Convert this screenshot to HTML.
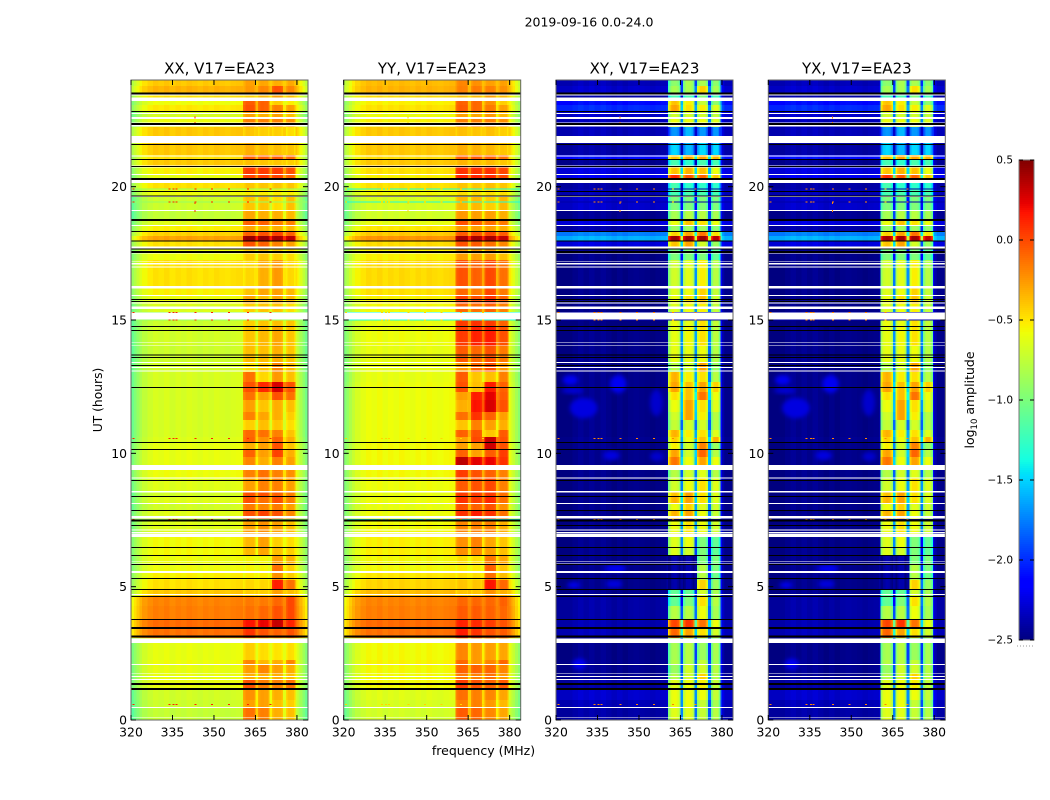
<!DOCTYPE html>
<html lang="en">
<head>
<meta charset="utf-8">
<title>2019-09-16 0.0-24.0</title>
<style>
html,body{margin:0;padding:0;background:#fff}
svg{display:block}
text{font-family:"DejaVu Sans","Liberation Sans",sans-serif;fill:#000}
</style>
</head>
<body>
<svg id="chart" xmlns="http://www.w3.org/2000/svg" width="1050" height="800" viewBox="0 0 1050 800">
  <defs><filter id="soft" x="-40%" y="-40%" width="180%" height="180%"><feGaussianBlur stdDeviation="2.2"/></filter></defs>
  <text x="589" y="26.5" font-size="12.5" text-anchor="middle">2019-09-16 0.0-24.0</text>
  <text transform="translate(102,400) rotate(-90)" font-size="12.3" text-anchor="middle">UT (hours)</text>
  <text x="483.5" y="755" font-size="12.5" text-anchor="middle">frequency (MHz)</text>
  <text transform="translate(974,400) rotate(-90)" font-size="12.5" text-anchor="middle">log<tspan font-size="8.5" dy="3">10</tspan><tspan dy="-3"> amplitude</tspan></text>
  <g id="panels"></g>
  <g id="colorbar"></g>
</svg>
<script>
const panelTitles = ['XX, V17=EA23', 'YY, V17=EA23', 'XY, V17=EA23', 'YX, V17=EA23'];
const freqTicks = [320, 335, 350, 365, 380];
const hourTicks = [0, 5, 10, 15, 20];
const colorbarTicks = [0.5, 0, -0.5, -1, -1.5, -2, -2.5];
const colorbarLabels = ['0.5', '0.0', '\u22120.5', '\u22121.0', '\u22121.5', '\u22122.0', '\u22122.5'];

const channelEdges = [320,321,322,323,324,326,328,330,332,334,336,338,340,342,344,346,348,350,352,354,356,358,360,360.5,361,361.5,362,362.5,363,363.5,364,364.5,365,365.5,366,366.5,367,367.5,368,368.5,369,369.5,370,370.5,371,371.5,372,372.5,373,373.5,374,374.5,375,375.5,376,376.5,377,377.5,378,378.5,379,379.5,380,380.5,381,382,383,384];
const channelBand = [0,0,0,0,0,0,0,0,0,0,0,0,0,0,0,0,0,0,0,0,0,0,0,1,1,1,1,1,1,1,1,1,1.5,1.5,2,2,2,2,2,2,2,2,2.5,2.5,3,3,3,3,3,3,3,3,3.5,3.5,4,4,4,4,4,4,4,0,0,0,0,0,0];
const autoOffset = [-.38,-.3,-.22,-.14,-.07,-.02,.02,0,.03,-.01,.02,0,.03,.01,-.01,.02,0,.03,.01,0,.02,.03,.03,-.05,0,.03,.03,.03,.02,.02,.02,-.02,0,0,-.03,.02,.03,.03,.02,.02,.02,-.03,0,0,-.03,.02,.03,.03,.02,.02,.02,-.03,0,0,-.04,.02,.03,.03,.02,.02,-.05,.02,-.03,-.08,-.15,-.25,-.35];
const crossOffset = [-.08,-.08,-.08,-.08,-.08,-.05,-.02,-.05,-.02,-.05,-.02,-.05,-.08,-.05,-.08,-.05,-.04,-.05,-.06,-.08,-.06,-.05,0,-.35,-.12,-.03,0,.02,.02,0,-.05,-.2,0,0,-.2,-.05,.02,.02,.02,.02,-.05,-.2,0,0,-.2,-.05,.02,.02,.02,.02,-.05,-.2,0,0,-.25,-.05,.02,.02,.02,-.05,-.25,.3,.05,0,-.05,-.05,-.05];
const gapDrop = [0.25, 0.25, 1.1, 1.1];

const rowEdgeHours = [24,23.78,23.51,23.33,23.06,22.84,22.54,22.24,21.9,21.64,21.19,21.04,20.74,20.44,20.14,19.91,19.61,19.09,18.71,18.53,18.3,18.15,17.96,17.7,17.25,16.28,15.9,15.6,15.3,15,14.74,14.03,13.39,13.05,12.68,12.3,12,11.55,11.25,10.88,10.61,10.43,10.16,9.86,9.56,9.38,9.08,8.55,8.4,8.1,7.84,7.46,6.86,6.45,6.15,5.85,5.51,5.25,4.88,4.65,4.28,3.75,3.45,3.08,2.89,2.25,2.06,1.73,1.5,1.16,.75,.45,0];

const xxLevels = [
[-.42,-.3,-.32,-.35,-.33],[-.35,-.28,-.22,-.05,-.22],[-.5,-.45,-.38,-.3,-.4],[-.6,-.08,-.1,-.45,-.55],[-.52,-.05,-.1,-.2,-.3],[-.68,-.3,-.35,-.3,-.4],[-.6,-.2,-.2,-.2,-.25],[-.42,-.42,-.45,-.45,-.5],[-.42,-.42,-.45,-.45,-.5],[-.42,-.35,-.38,-.4,-.42],
[-.5,-.1,-.1,-.08,-.12],[-.42,-.4,-.42,-.42,-.45],[-.55,.02,.02,.02,-.05],[-.62,0,.02,0,-.1],[-.5,-.42,-.42,-.42,-.42],[-.6,-.55,-.55,-.55,-.55],[-.72,-.42,-.42,-.5,-.4],[-.75,-.32,-.35,-.35,-.38],[-.65,-.1,-.1,-.18,-.2],[-.55,-.32,-.35,-.35,-.38],
[-.45,-.1,-.05,0,-.1],[-.3,.42,.42,.38,.33],[-.5,-.05,-.1,-.2,-.3],[-.6,-.45,-.42,-.45,-.5],[-.5,-.48,-.35,-.28,-.48],[-.55,-.42,-.32,-.3,-.38],[-.6,-.32,-.4,-.32,-.38],[-.66,-.45,-.42,-.42,-.5],[-.7,-.45,-.42,-.42,-.5],[-.72,-.45,-.42,-.4,-.42],
[-.7,-.42,-.38,-.32,-.42],[-.72,-.4,-.4,-.35,-.42],[-.7,-.5,-.42,-.22,-.38],[-.68,-.15,-.48,-.28,-.4],[-.68,-.05,.08,.25,-.05],[-.68,-.15,-.3,-.05,-.15],[-.68,-.3,-.42,-.35,-.4],[-.68,-.2,-.32,-.35,-.45],[-.68,-.45,-.4,-.42,-.5],[-.68,-.12,-.15,-.2,-.42],
[-.66,-.1,-.25,-.1,-.35],[-.62,-.35,-.3,-.05,-.42],[-.62,-.1,-.3,0,-.35],[-.62,-.22,-.35,-.2,-.3],[-.62,-.22,-.35,-.2,-.3],[-.6,-.2,-.15,-.2,-.25],[-.65,-.3,-.2,-.2,-.3],[-.7,-.05,-.05,-.1,-.2],[-.65,-.05,-.15,-.05,-.2],[-.7,-.18,-.22,-.18,-.3],
[-.65,-.05,0,-.05,-.22],[-.65,-.3,-.25,-.3,-.4],[-.58,-.38,-.3,-.45,-.5],[-.58,-.38,-.32,-.4,-.45],[-.6,-.58,-.58,-.3,-.36],[-.6,-.58,-.58,-.15,-.45],[-.55,-.55,-.55,-.25,-.45],[-.5,-.48,-.48,.12,-.15],[-.42,-.45,-.45,-.3,-.4],[-.2,-.18,-.18,-.12,-.02],
[-.18,-.15,-.12,-.05,-.02],[-.12,.15,.2,.3,.1],[-.14,.05,-.05,-.1,-.05],[-.6,-.5,-.5,-.5,-.5],[-.62,-.45,-.5,-.52,-.5],[-.6,-.22,-.38,-.35,-.22],[-.62,-.3,-.22,-.3,-.35],[-.62,-.35,-.35,-.35,-.4],[-.62,-.05,-.18,-.2,-.15],[-.7,-.25,-.3,-.35,-.4],
[-.72,-.3,-.3,-.4,-.45],[-.75,-.15,-.2,-.35,-.4]];

const yyLevels = [
[-.38,-.22,-.25,-.3,-.3],[-.35,-.2,-.18,-.2,-.25],[-.48,-.4,-.38,-.3,-.38],[-.55,-.1,-.12,-.25,-.45],[-.5,-.08,-.12,-.18,-.3],[-.6,-.3,-.32,-.28,-.38],[-.55,-.2,-.2,-.2,-.25],[-.42,-.4,-.42,-.4,-.45],[-.42,-.4,-.42,-.4,-.45],[-.42,-.35,-.36,-.38,-.42],
[-.48,-.1,-.08,-.1,-.15],[-.42,-.36,-.38,-.38,-.42],[-.5,.05,.05,.05,-.02],[-.55,.1,.1,.08,-.02],[-.5,-.42,-.42,-.4,-.42],[-.58,-.5,-.5,-.5,-.5],[-.68,-.38,-.38,-.45,-.38],[-.7,-.28,-.3,-.3,-.35],[-.62,-.05,-.08,-.15,-.18],[-.52,-.28,-.3,-.3,-.35],
[-.42,-.08,-.05,-.02,-.08],[-.25,.38,.38,.38,.32],[-.48,-.05,-.08,-.15,-.22],[-.55,-.3,-.3,-.3,-.4],[-.48,-.05,-.1,-.02,-.15],[-.5,-.12,-.18,-.02,-.18],[-.55,0,-.05,.05,-.1],[-.58,-.12,-.15,-.1,-.2],[-.65,-.1,-.15,-.1,-.2],[-.62,.02,.05,.02,-.1],
[-.6,.02,.1,.12,-.05],[-.62,-.08,-.12,-.05,-.18],[-.62,-.28,-.12,-.05,-.28],[-.62,-.08,-.42,-.4,-.2],[-.6,-.05,-.4,.12,-.1],[-.6,-.3,.12,.22,-.08],[-.6,-.35,.15,.25,-.05],[-.6,-.15,.05,-.1,-.3],[-.6,-.42,-.2,-.3,-.35],[-.6,-.1,-.05,-.42,-.08],
[-.6,-.3,-.02,.3,-.05],[-.58,-.3,-.3,.28,-.05],[-.58,-.1,-.3,-.08,.02],[-.58,.32,.22,.2,.05],[-.58,.32,.22,.2,.05],[-.58,.02,-.05,-.1,-.2],[-.6,-.08,-.05,-.02,-.2],[-.62,.02,.02,.02,-.15],[-.6,.05,.02,.08,-.15],[-.62,-.05,-.1,-.05,-.25],
[-.6,.05,.12,.05,-.15],[-.58,-.22,-.2,-.2,-.35],[-.55,-.25,-.2,-.32,-.42],[-.55,-.25,-.22,-.3,-.4],[-.58,-.5,-.5,-.18,-.32],[-.58,-.55,-.55,-.1,-.42],[-.52,-.5,-.5,-.15,-.4],[-.46,-.42,-.42,.15,-.12],[-.38,-.42,-.42,-.25,-.35],[-.2,-.12,-.12,-.12,-.1],
[-.18,-.08,-.08,-.1,-.12],[-.12,.1,.08,.02,-.05],[-.14,.12,.05,-.05,-.08],[-.58,-.3,-.3,-.3,-.3],[-.58,-.22,-.28,-.3,-.32],[-.56,-.12,-.28,-.22,-.12],[-.58,-.1,-.1,-.12,-.22],[-.58,-.18,-.2,-.15,-.28],[-.58,.02,-.05,-.1,-.08],[-.65,-.15,-.2,-.22,-.32],
[-.68,-.2,-.2,-.28,-.38],[-.7,-.08,-.12,-.22,-.32]];

const xyLevels = [
[-2.3,-.95,-.85,-.85,-.95],[-2.25,-.85,-.85,-.45,-.85],[-2.35,-1.2,-1.2,-1,-1.2],[-2.05,-.4,-.55,-.75,-.95],[-1.95,-.3,-.5,-.55,-.65],[-2.25,-.7,-.7,-.7,-.75],[-2.3,-.6,-.6,-.6,-.65],[-2.3,-1.7,-1.6,-1.7,-1.7],[-2.35,-1.6,-1.6,-1.6,-1.6],[-2.35,-1.5,-1.6,-1.5,-1.5],
[-2.05,-.4,-.3,-.3,-.35],[-2.4,-1.2,-1.3,-1.2,-1.2],[-2.2,-.4,-.35,-.4,-.6],[-2.15,.1,-.05,-.1,-.4],[-2.35,-1.2,-1.3,-1.3,-1.3],[-2.3,-1.2,-1.2,-1.2,-1.2],[-2.25,-1,-1,-1,-1],[-2.4,-.85,-.8,-.8,-.85],[-2.2,-.6,-.4,-.5,-.6],[-2.35,-.9,-.9,-.9,-.95],
[-1.7,-.45,-.3,-.15,-.5],[-1.55,.42,.42,.42,.35],[-2.2,-.4,-.3,-.7,-.9],[-2.42,-1,-1,-1,-1.1],[-2.42,-.7,-.65,-.55,-.8],[-2.42,-.65,-.6,-.45,-.75],[-2.42,-.6,-.5,-.4,-.7],[-2.42,-.65,-.6,-.55,-.75],[-2.42,-.65,-.6,-.55,-.75],[-2.45,-.6,-.62,-.5,-.75],
[-2.42,-.62,-.58,-.5,-.78],[-2.42,-.62,-.62,-.6,-.8],[-2.42,-.8,-.7,-.3,-.9],[-2.42,-.35,-.55,-.5,-.8],[-2.42,-.3,-.4,-.3,-.45],[-2.42,-.5,-.4,-.15,-.6],[-2.42,-.6,-.3,-.5,-.65],[-2.42,-.7,-.3,-.55,-.8],[-2.42,-.75,-.7,-.7,-.8],[-2.42,-.35,-.55,-.5,-.65],
[-2.4,-.45,-.6,-.4,-.35],[-2.42,-.55,-.7,-.2,-.9],[-2.42,-.3,-.7,-.1,-.8],[-2.42,-.15,-.6,-.3,-.6],[-2.42,-.15,-.6,-.3,-.6],[-2.42,-.8,-.7,-.65,-.8],[-2.42,-.7,-.6,-.5,-.65],[-2.42,-.4,-.3,-.5,-.65],[-2.42,-.35,-.3,-.5,-.65],[-2.42,-.6,-.45,-.65,-.7],
[-2.42,-.35,-.3,-.6,-.75],[-2.42,-.6,-.5,-.6,-.7],[-2.42,-.65,-.6,-1,-1.1],[-2.42,-.65,-.7,-1,-1.1],[-2.42,-2.4,-2.4,-1,-1],[-2.42,-2.4,-2.4,-.8,-1],[-2.42,-2.4,-2.4,-.8,-1.05],[-2.42,-2.4,-2.4,-.45,-.9],[-2.42,-1.1,-1.1,-.7,-.85],[-2.35,-1.1,-1,-.5,-.8],
[-2.35,-.8,-.8,-.6,-.85],[-2.32,0,.05,-.15,-.6],[-2.3,-.1,-.3,-.5,-.7],[-2.42,-.9,-.9,-1,-1],[-2.42,-.85,-.8,-.9,-.85],[-2.4,-.8,-.8,-.75,-.85],[-2.4,-.9,-.7,-.7,-.8],[-2.4,-.8,-.7,-.45,-.8],[-2.35,-.65,-.6,-.55,-.75],[-2.25,-.6,-.6,-.6,-.75],
[-2.3,-.6,-.6,-.75,-.85],[-2.35,-.65,-.65,-.75,-.8]];

const yxLevels = [
[-2.3,-.95,-.85,-.85,-.95],[-2.25,-.85,-.85,-.5,-.85],[-2.35,-1.2,-1.2,-1,-1.2],[-2.05,-.4,-.55,-.75,-.95],[-1.95,-.3,-.5,-.55,-.65],[-2.25,-.7,-.7,-.7,-.75],[-2.3,-.6,-.6,-.6,-.65],[-2.3,-1.7,-1.6,-1.7,-1.7],[-2.35,-1.6,-1.6,-1.6,-1.6],[-2.35,-1.5,-1.6,-1.5,-1.5],
[-2.05,-.4,-.3,-.3,-.35],[-2.4,-1.2,-1.3,-1.2,-1.2],[-2.2,-.4,-.35,-.4,-.6],[-2.15,.08,-.05,-.1,-.4],[-2.35,-1.2,-1.3,-1.3,-1.3],[-2.3,-1.2,-1.2,-1.2,-1.2],[-2.25,-1,-1,-1,-1],[-2.4,-.85,-.8,-.8,-.85],[-2.2,-.6,-.4,-.5,-.6],[-2.35,-.9,-.9,-.9,-.95],
[-1.7,-.45,-.3,-.15,-.5],[-1.55,.4,.4,.4,.33],[-2.2,-.4,-.3,-.7,-.9],[-2.42,-1,-1,-1,-1.1],[-2.42,-.7,-.65,-.55,-.8],[-2.42,-.65,-.6,-.45,-.75],[-2.42,-.6,-.5,-.4,-.7],[-2.42,-.65,-.6,-.55,-.75],[-2.42,-.65,-.6,-.55,-.75],[-2.45,-.6,-.62,-.5,-.75],
[-2.42,-.62,-.58,-.5,-.78],[-2.42,-.62,-.62,-.6,-.8],[-2.42,-.8,-.7,-.3,-.9],[-2.42,-.35,-.55,-.5,-.8],[-2.42,-.3,-.4,-.3,-.45],[-2.42,-.5,-.4,-.15,-.6],[-2.42,-.6,-.3,-.5,-.65],[-2.42,-.7,-.3,-.55,-.8],[-2.42,-.75,-.7,-.7,-.8],[-2.42,-.35,-.55,-.5,-.65],
[-2.4,-.45,-.6,-.4,-.35],[-2.42,-.55,-.7,-.2,-.9],[-2.42,-.3,-.7,-.1,-.8],[-2.42,-.15,-.6,-.3,-.6],[-2.42,-.15,-.6,-.3,-.6],[-2.42,-.8,-.7,-.65,-.8],[-2.42,-.7,-.6,-.5,-.65],[-2.42,-.4,-.3,-.5,-.65],[-2.42,-.35,-.3,-.5,-.65],[-2.42,-.6,-.45,-.65,-.7],
[-2.42,-.35,-.3,-.6,-.75],[-2.42,-.6,-.5,-.6,-.7],[-2.42,-.65,-.6,-1,-1.1],[-2.42,-.65,-.7,-1,-1.1],[-2.42,-2.4,-2.4,-1,-1],[-2.42,-2.4,-2.4,-.8,-1],[-2.42,-2.4,-2.4,-.8,-1.05],[-2.42,-2.4,-2.4,-.45,-.9],[-2.42,-1.1,-1.1,-.7,-.85],[-2.35,-1.1,-1,-.5,-.8],
[-2.35,-.8,-.8,-.6,-.85],[-2.32,0,.05,-.15,-.6],[-2.3,-.1,-.3,-.5,-.7],[-2.42,-.9,-.9,-1,-1],[-2.42,-.85,-.8,-.9,-.85],[-2.4,-.8,-.8,-.75,-.85],[-2.4,-.9,-.7,-.7,-.8],[-2.4,-.8,-.7,-.45,-.8],[-2.35,-.65,-.6,-.55,-.75],[-2.25,-.6,-.6,-.6,-.75],
[-2.3,-.6,-.6,-.75,-.85],[-2.35,-.65,-.65,-.75,-.8]];

/* Faint blue clouds in the cross-hand background: centre frequency, half width (MHz), centre hour, half height (hours), log amplitude */
const cloudFreqs = [325.2, 342.5, 326, 330, 356.3, 340, 356.5, 341.6, 326.4, 341, 328.5];
const cloudFreqRadii = [2.8, 3, 4, 5, 2.3, 3, 2.5, 4, 2.4, 3, 2.5];
const cloudHours = [12.75, 12.6, 12.35, 11.7, 11.9, 9.92, 9.88, 5.68, 5.06, 5.1, 2.1];
const cloudHourRadii = [.19, .34, .1, .38, .5, .18, .18, .13, .11, .15, .2];
const cloudLevels = [-2.2, -2.2, -2.25, -2.25, -2.3, -2.25, -2.3, -2.15, -2.2, -2.25, -2.2];

const noiseRowHours = [15.28, 15.0, 19.91, 19.43, 7.52];
const noiseRowLevels = [-0.9, -1.35, -2.4, -2.4];
const rfiHours = [15.28, 15.0, 19.91, 19.43, 10.56, 7.52, 0.58];
const rfiFreqs = [320.5, 333.5, 335, 336, 343, 349, 355, 362, 370];
const rfiLevels = [0.12, -0.45, -0.2, -0.2];
const spotHours = [22.6, 22.4, 19.4, 19.1];
const spotFreqs = [343, 343, 343, 343];

const whiteLowHours = [23.42,23.21,22.73,22.53,22.37,22.25,21.64,21.14,20.71,20.44,20.13,19.62,19.09,18.53,17.69,17.49,17.19,17.09,16.96,16.19,15.9,15.61,15.41,15.02,14.14,14.04,13.39,13.2,13.06,9.38,9.06,8.54,8.1,7.56,7.1,7,6.87,5.92,5.86,5.51,4.68,2.89,2.07,1.73,1.62,1.5,.45,.09];
const whiteHighHours = [23.45,23.34,22.76,22.61,22.4,22.32,21.9,21.17,20.79,20.48,20.25,19.66,19.13,18.56,17.75,17.58,17.22,17.13,17,16.28,15.94,15.66,15.5,15.28,14.16,14.07,13.43,13.23,13.1,9.56,9.1,8.58,8.14,7.65,7.15,7.05,6.97,5.95,5.89,5.59,4.73,3.06,2.1,1.75,1.65,1.53,.48,.12];
const blackCenterHours = [23.49,22.82,22.35,21.58,21.02,20.76,20.29,19.82,19.65,18.75,18.32,17.96,17.66,17.55,15.77,15.69,14.76,14.61,13.69,13.59,13.29,12.47,10.41,10.14,8.98,8.38,7.86,7.48,7.29,6.47,6.17,5.83,5.31,4.89,4.63,3.77,3.45,3.13,1.35,1.16];
const blackWidthHours = [.075,.0375,.06,.0375,.0375,.0375,.075,.0375,.0375,.075,.0375,.0375,.0375,.06,.0375,.0375,.0375,.0375,.0375,.0375,.0375,.0375,.0375,.0375,.0375,.0375,.0375,.075,.0375,.0375,.0375,.0375,.0375,.0375,.0375,.0375,.075,.075,.075,.075];

const panelLevels = [xxLevels, yyLevels, xyLevels, yxLevels];
const panelLefts = [131, 343.7, 556, 768.3];
const panelWidth = 177;
const SVGNS = 'http://www.w3.org/2000/svg';

function xScale(mhz, p) { return panelLefts[p] + (mhz - 320) / 64 * panelWidth; }
function yScale(h) { return 720 - h / 24 * 640; }
function jet(v) {
  const t = Math.max(0, Math.min(1, (v + 2.5) / 3));
  function ramp(pts) {
    for (let i = 1; i < pts.length; i++) {
      if (t <= pts[i][0]) {
        const a = pts[i - 1], b = pts[i];
        return a[1] + (b[1] - a[1]) * (t - a[0]) / (b[0] - a[0]);
      }
    }
    return pts[pts.length - 1][1];
  }
  const r = ramp([[0,0],[.35,0],[.66,1],[.89,1],[1,.5]]);
  const g = ramp([[0,0],[.125,0],[.375,1],[.64,1],[.91,0],[1,0]]);
  const b = ramp([[0,.5],[.11,1],[.34,1],[.65,0],[1,0]]);
  return 'rgb(' + Math.round(r * 255) + ',' + Math.round(g * 255) + ',' + Math.round(b * 255) + ')';
}
function make(tag, parent) {
  const el = document.createElementNS(SVGNS, tag);
  parent.appendChild(el);
  return el;
}
function box(el, x, y, w, h, fill) {
  el.setAttribute('x', x);
  el.setAttribute('y', y);
  el.setAttribute('width', w);
  el.setAttribute('height', h);
  el.setAttribute('fill', fill);
  el.setAttribute('shape-rendering', 'crispEdges');
}
function seg(el, x1, y1, x2, y2, stroke, w) {
  el.setAttribute('x1', x1);
  el.setAttribute('y1', y1);
  el.setAttribute('x2', x2);
  el.setAttribute('y2', y2);
  el.setAttribute('stroke', stroke);
  el.setAttribute('stroke-width', w);
}
function cellValue(p, levels, c) {
  const band = channelBand[c];
  const isAuto = p < 2;
  if (band !== Math.floor(band)) {
    const L = levels[Math.floor(band)], R = levels[Math.ceil(band)];
    return Math.max(levels[0], (L + R) / 2 - gapDrop[p]);
  }
  return levels[band] + (isAuto ? autoOffset[c] : crossOffset[c]);
}

const panelsRoot = document.getElementById('panels');
panelTitles.forEach(function (title, p) {
  const g = make('g', panelsRoot);
  
  

  panelLevels[p].forEach(function (levels, r) {
    const yTop = yScale(rowEdgeHours[r]);
    const yBot = yScale(rowEdgeHours[r + 1]);
    for (let c = 0; c < channelBand.length; c++) {
      const x0 = xScale(channelEdges[c], p);
      const x1 = xScale(channelEdges[c + 1], p);
      const cell = make('rect', g);
      box(cell, x0, yTop, x1 - x0, yBot - yTop, jet(cellValue(p, levels, c)));
      
      
    }
  });

  if (p >= 2) {
    cloudFreqs.forEach(function (f, i) {
      const cloud = make('ellipse', g);
      cloud.setAttribute('cx', xScale(f, p));
      cloud.setAttribute('cy', yScale(cloudHours[i]));
      cloud.setAttribute('rx', xScale(f + cloudFreqRadii[i], p) - xScale(f, p));
      cloud.setAttribute('ry', yScale(cloudHours[i] - cloudHourRadii[i]) - yScale(cloudHours[i]));
      cloud.setAttribute('fill', jet(cloudLevels[i]));
      cloud.setAttribute('filter', 'url(#soft)');
      
      
    });
  }

  noiseRowHours.forEach(function (h) {
    const row = make('rect', g);
    box(row, xScale(320, p), yScale(h + 0.02), panelWidth, 1, jet(noiseRowLevels[p]));
    
    
  });

  whiteLowHours.forEach(function (lo, i) {
    const flag = make('rect', g);
    box(flag, xScale(320, p), yScale(whiteHighHours[i]), panelWidth, yScale(lo) - yScale(whiteHighHours[i]), '#fff');
    
    
  });

  rfiHours.forEach(function (h) {
    rfiFreqs.forEach(function (f) {
      const dot = make('rect', g);
      box(dot, xScale(f, p), yScale(h + 0.02), 2, 1, jet(rfiLevels[p]));
      
      
    });
  });
  spotHours.forEach(function (h, i) {
    const spot = make('rect', g);
    box(spot, xScale(spotFreqs[i], p), yScale(h + 0.03), 1, 2, jet(rfiLevels[p]));
    
    
  });

  blackCenterHours.forEach(function (h, i) {
    const line = make('rect', g);
    const top = yScale(h + blackWidthHours[i] / 2);
    box(line, xScale(320, p), top, panelWidth, Math.max(1, yScale(h - blackWidthHours[i] / 2) - top), '#000');
    
    
  });

  const left = xScale(320, p);
  const right = left + panelWidth;

  const frame = make('rect', g);
  frame.setAttribute('x', left);
  frame.setAttribute('y', 80);
  frame.setAttribute('width', panelWidth);
  frame.setAttribute('height', 640);
  frame.setAttribute('fill', 'none');
  frame.setAttribute('stroke', '#666');
  frame.setAttribute('stroke-width', '1');
  
  

  freqTicks.forEach(function (f) {
    const x = xScale(f, p);
    const tickB = make('line', g);
    seg(tickB, x, 720, x, 715, '#000', 1);
    
    
    const tickT = make('line', g);
    seg(tickT, x, 80, x, 85, '#000', 1);
    
    
    const label = make('text', g);
    label.setAttribute('x', x);
    label.setAttribute('y', 736.5);
    label.setAttribute('font-size', '12.4');
    label.setAttribute('text-anchor', 'middle');
    label.textContent = String(f);
    
    
  });

  hourTicks.forEach(function (h) {
    const y = yScale(h);
    const tickL = make('line', g);
    seg(tickL, left, y, left + 5, y, '#000', 1);
    
    
    const tickR = make('line', g);
    seg(tickR, right, y, right - 5, y, '#000', 1);
    
    
    const label = make('text', g);
    label.setAttribute('x', left - 4);
    label.setAttribute('y', y + 4.5);
    label.setAttribute('font-size', '12.4');
    label.setAttribute('text-anchor', 'end');
    label.textContent = String(h);
    
    
  });

  const heading = make('text', g);
  heading.setAttribute('x', left + panelWidth / 2);
  heading.setAttribute('y', 73.5);
  heading.setAttribute('font-size', '15');
  heading.setAttribute('text-anchor', 'middle');
  heading.textContent = title;
  
  
});

const cbRoot = document.getElementById('colorbar');
const cbLeft = 1019, cbWidth = 15, cbTop = 160, cbHeight = 480;
function cbScale(v) { return cbTop + (0.5 - v) / 3 * cbHeight; }
for (let s = 0; s < 240; s++) {
  const v = 0.5 - s * 0.0125;
  const strip = make('rect', cbRoot);
  box(strip, cbLeft, cbScale(v), cbWidth, cbScale(v - 0.0125) - cbScale(v), jet(v - 0.00625));
  
  
}
const cbFrame = make('rect', cbRoot);
cbFrame.setAttribute('x', cbLeft);
cbFrame.setAttribute('y', cbTop);
cbFrame.setAttribute('width', cbWidth);
cbFrame.setAttribute('height', cbHeight);
cbFrame.setAttribute('fill', 'none');
cbFrame.setAttribute('stroke', '#777');
cbFrame.setAttribute('stroke-width', '1');


colorbarTicks.forEach(function (v, i) {
  const y = cbScale(v);
  const tickA = make('line', cbRoot);
  seg(tickA, cbLeft, y, cbLeft + 4, y, '#000', 1);
  
  
  const tickB = make('line', cbRoot);
  seg(tickB, cbLeft + cbWidth, y, cbLeft + cbWidth - 4, y, '#000', 1);
  
  
  const label = make('text', cbRoot);
  label.setAttribute('x', 1013);
  label.setAttribute('y', y + 3.5);
  label.setAttribute('font-size', '10.5');
  label.setAttribute('text-anchor', 'end');
  label.textContent = colorbarLabels[i];
  
  
});
const cbDots = make('line', cbRoot);
seg(cbDots, 1017, 646, 1034, 646, '#999', 1);
cbDots.setAttribute('stroke-dasharray', '1 2');


</script>
</body>
</html>
